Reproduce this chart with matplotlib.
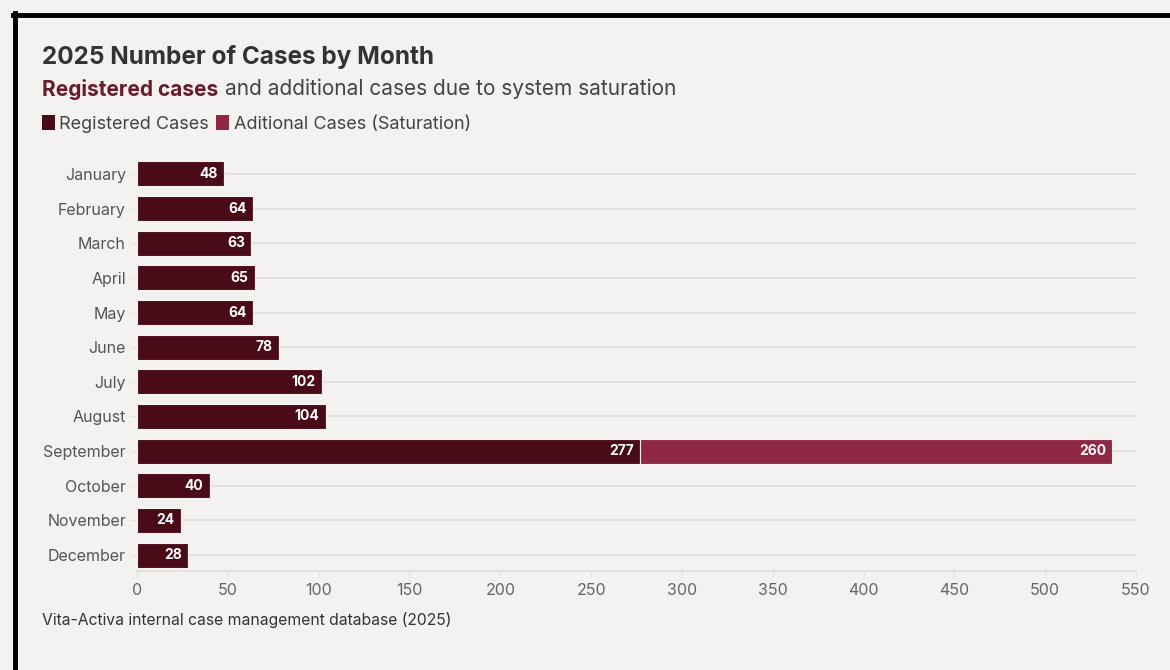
import numpy as np
import matplotlib.pyplot as plt
from matplotlib.patches import Patch

plt.rcParams['font.family'] = ['Inter', 'DejaVu Sans']

months = ['January', 'February', 'March', 'April', 'May', 'June',
          'July', 'August', 'September', 'October', 'November', 'December']
registered = [48, 64, 63, 65, 64, 78, 102, 104, 277, 40, 24, 28]
additional = [0, 0, 0, 0, 0, 0, 0, 0, 260, 0, 0, 0]
x_ticks = [0, 50, 100, 150, 200, 250, 300, 350, 400, 450, 500, 550]

bg = '#f3f2f0'
dark = '#4a0b18'
light = '#8e2845'
grid_col = '#e2e0de'

fig = plt.figure(figsize=(11.7, 6.7), dpi=100, facecolor=bg)
ax = fig.add_axes([0.1171, 0.1478, 0.8538, 0.6164], facecolor=bg)

y = np.arange(len(months))
ax.barh(y, registered, height=0.72, color=dark, edgecolor=bg, linewidth=0.8, zorder=3)
ax.barh(y, additional, left=registered, height=0.72, color=light, edgecolor=bg, linewidth=0.8, zorder=3)

# labels inside bars
for i in range(len(months)):
    ax.text(registered[i] - 3.5, y[i], str(registered[i]), color='white', fontsize=10,
            fontweight='bold', ha='right', va='center', zorder=4)
    if additional[i] > 0:
        ax.text(registered[i] + additional[i] - 3.5, y[i], str(additional[i]), color='white',
                fontsize=10, fontweight='bold', ha='right', va='center', zorder=4)

ax.set_xlim(0, 550)
ax.set_ylim(len(months) - 1 + 0.46, -0.46)
ax.set_yticks(y)
ax.set_yticklabels(months, fontsize=11.5, color='#555555')
ax.set_xticks(x_ticks)
ax.set_xticklabels([str(t) for t in x_ticks], fontsize=11.5, color='#666666')
ax.tick_params(axis='y', length=5, color=grid_col, pad=3)
ax.tick_params(axis='x', length=4, color=grid_col, pad=5)

for yy in y:
    ax.axhline(yy, color=grid_col, linewidth=1.3, zorder=1)

for s in ['top', 'right', 'left']:
    ax.spines[s].set_visible(False)
ax.spines['bottom'].set_color(grid_col)
ax.spines['bottom'].set_linewidth(1.3)

# titles
fig.text(42 / 1170, 1 - 57 / 670, '2025 Number of Cases by Month', fontsize=17.5,
         fontweight='bold', color='#333333', ha='left', va='center')
t1 = fig.text(42 / 1170, 1 - 89 / 670, 'Registered cases', fontsize=15,
              fontweight='bold', color='#6b1a2c', ha='left', va='center')
fig.canvas.draw()
bb = t1.get_window_extent()
fig.text(bb.x1 / 1170 + 7 / 1170, 1 - 89 / 670, 'and additional cases due to system saturation',
         fontsize=15, color='#444444', ha='left', va='center')

handles = [Patch(facecolor=dark, label='Registered Cases'),
           Patch(facecolor=light, label='Aditional Cases (Saturation)')]
fig.legend(handles=handles, loc='center left', bbox_to_anchor=(26 / 1170, 1 - 124 / 670),
           ncol=2, frameon=False, fontsize=13, handlelength=0.7, handleheight=0.9,
           handletextpad=0.25, columnspacing=0.4, labelcolor='#444444')

fig.text(42 / 1170, 1 - 620 / 670, 'Vita-Activa internal case management database (2025)',
         fontsize=11.3, color='#333333', ha='left', va='center')

# frame edges at top and left
fig.add_artist(plt.Line2D([13 / 1170, 1], [1 - 15 / 670, 1 - 15 / 670], color='black', linewidth=3.5))
fig.add_artist(plt.Line2D([15 / 1170, 15 / 1170], [0, 1 - 13 / 670], color='black', linewidth=3.5))

fig.savefig('out.png', dpi=100, facecolor=bg)
